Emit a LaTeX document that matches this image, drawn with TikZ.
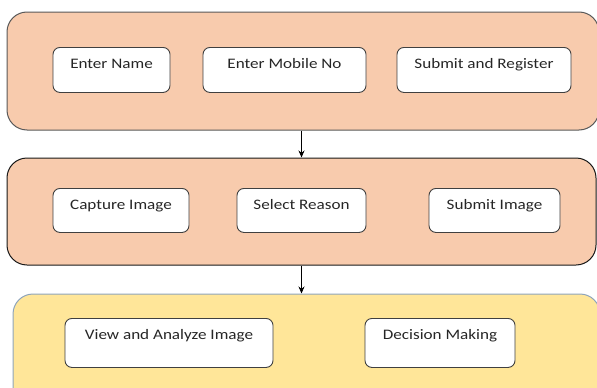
\documentclass[tikz,border=0pt]{standalone}
\usepackage{fontspec}
\setmainfont{Carlito}[FakeStretch=1.18]
\usepackage{tikz}
\usetikzlibrary{arrows.meta}
\definecolor{peach}{HTML}{F8CBAD}
\definecolor{sand}{HTML}{FFE699}
\definecolor{slate}{HTML}{8EA4BC}
\definecolor{ink}{HTML}{404040}
\newcommand{\stagebox}[7]{\node[stage, fill=#6, draw=#7, minimum width=#4pt, minimum height=#5pt] (#1) at (#2,#3) {};}
\newcommand{\taskbox}[6]{\node[task, minimum width=#4pt, text depth=#5pt] (#1) at (#2,#3) {#6};}

\begin{document}
\begin{tikzpicture}[x=1pt, y=-1pt,
    stage/.style={rectangle, rounded corners=20pt, line width=1pt, inner sep=0pt},
    task/.style={rectangle, rounded corners=7pt, draw=ink, line width=0.9pt, fill=white,
        anchor=north, inner sep=0pt, text height=21pt, text=black!85,
        font=\fontsize{14.5}{17}\selectfont},
    flow/.style={-{Stealth[length=7pt,width=6pt]}, line width=0.9pt}]
        \useasboundingbox (0,0) rectangle (597,388);

        % stages
        \stagebox{reg}{303}{71}{592}{118}{peach}{black!65}
        \stagebox{cap}{301.5}{211.5}{589}{107}{peach}{black!90}
        \stagebox{dec}{306.5}{352}{587}{116}{sand}{slate}

        % row1
        \taskbox{name}{111.5}{47}{117}{24}{Enter Name}
        \taskbox{mobile}{284.5}{47}{163}{24}{Enter Mobile No}
        \taskbox{register}{484}{47}{174}{24}{Submit and Register}

        % row2
        \taskbox{capture}{121}{188}{136}{23}{Capture Image}
        \taskbox{reason}{301.5}{188}{129}{23}{Select Reason}
        \taskbox{submit}{494.5}{188}{131}{23}{Submit Image}

        % row3
        \taskbox{analyze}{169}{318}{208}{28}{View and Analyze Image}
        \taskbox{decision}{440}{318}{150}{28}{Decision Making}

        \draw[flow] (reg.south -| cap.north) -- (cap.north);
        \draw[flow] (cap.south) -- (cap.south |- dec.north);
    \end{tikzpicture}
\end{document}
